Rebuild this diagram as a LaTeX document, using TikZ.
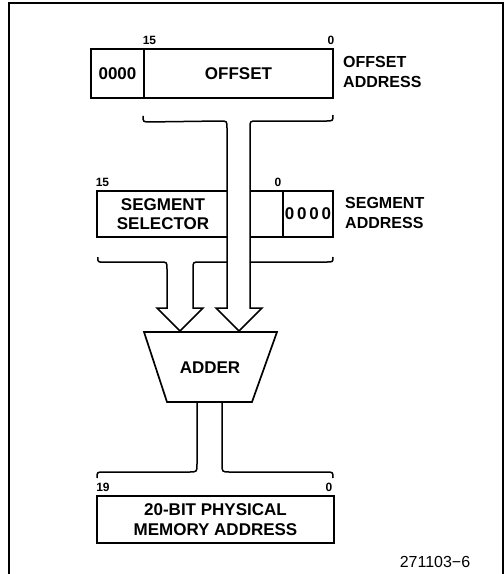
\documentclass[tikz,border=0pt]{standalone}
\usepackage{fontspec}
\setmainfont{Liberation Sans}
\begin{document}
\begin{tikzpicture}[x=1pt,y=-1pt,
  boxline/.style={line width=1.9pt},
  box/.style={draw, boxline, inner sep=0pt, align=center, font=\bfseries\fontsize{17}{19.5}\selectfont},
  plain/.style={inner sep=0pt, align=center, font=\bfseries\fontsize{17}{19.5}\selectfont},
  lbl/.style={inner sep=0pt, anchor=west, align=left, font=\bfseries\fontsize{16}{20}\selectfont},
  bit/.style={inner sep=0pt, font=\bfseries\fontsize{12}{13}\selectfont},
  bus/.style={line width=1.5pt, line join=miter},
  frame/.style={line width=1.4pt}]
\useasboundingbox (0,0) rectangle (504,574);
% frame
\draw[frame] (9,574) -- (9,3) -- (503,3) -- (503,574);

% offset address register
\node[box, minimum width=53pt, minimum height=49pt] (zoff) at (117.5,73.5) {0000};
\node[box, minimum width=189pt, minimum height=49pt] (off) at (238.5,73.5) {OFFSET};
\node[bit] (b15a) at (149.5,40) {15};
\node[bit] (b0a) at (331,40) {0};
\node[lbl] (offlbl) at (343,72) {OFFSET\\ADDRESS};

% segment address register
\node[plain, minimum width=130pt, minimum height=46pt] (seg) at (163,214) {SEGMENT\\SELECTOR};
\draw[boxline] (227,191) -- (97,191) -- (97,237) -- (227,237);
\node[minimum width=33pt, minimum height=46pt, inner sep=0pt] (gap) at (266.5,214) {};
\draw[boxline] (gap.north west) -- (gap.north east) -- (gap.south east) -- (gap.south west);
\node[box, minimum width=50pt, minimum height=46pt] (zseg) at (308,214) {0\,0\,0\,0};
\node[bit] (b15b) at (102.5,182) {15};
\node[bit] (b0b) at (278,182) {0};
\node[lbl] (seglbl) at (345,213) {SEGMENT\\ADDRESS};

% adder
\coordinate (atl) at (144,332);
\coordinate (atr) at (277,332);
\coordinate (abr) at (252,402);
\coordinate (abl) at (167,402);
\draw[boxline, line width=1.7pt, line join=miter] (atl) -- (atr) -- (abr) -- (abl) -- cycle;
\node[plain] (adder) at (210,368) {ADDER};
\coordinate (tipL) at (180,331);
\coordinate (tipR) at (239,331);

% offset bus to adder
\draw[bus] (off.south west) ++(0,17) .. controls +(0,6) .. +(7,6) -- (220,121)
  .. controls (227,121) .. (227,128) -- (227,308) -- (216,308) -- (tipR) -- (262,308) -- (250,308)
  -- (250,128) .. controls (250,121) .. (257,121) -- (326,121)
  .. controls (333,121) .. (333,115);

% segment bus to adder
\draw[bus] (seg.south west) ++(0,20) .. controls +(0,5) .. +(7,5) -- (160,262)
  .. controls (167,262) .. (167,269) -- (167,308) -- (157,308) -- (tipL) -- (203,308) -- (193,308)
  -- (193,269) .. controls (193,262) .. (200,262) -- (227,262);
\draw[bus] (250,262) -- (326,262) .. controls (333,262) .. (333,257);

% physical address register
\node[box, minimum width=237pt, minimum height=47pt] (mem) at (215.5,519.5) {20-BIT PHYSICAL\\MEMORY ADDRESS};
\node[bit] (b19) at (103,487) {19};
\node[bit] (b0c) at (329,487) {0};

% adder to physical address bus
\draw[bus] (197,402) -- (197,464) .. controls (197,472) .. (189,472) -- (104,472)
  .. controls (97,472) .. (97,478);
\draw[bus] (222,402) -- (222,464) .. controls (222,472) .. (230,472) -- (326,472)
  .. controls (333,472) .. (333,478);

\node[inner sep=0pt, font=\fontsize{16}{18}\selectfont] (fig) at (435,562) {271103−6};
\end{tikzpicture}
\end{document}
